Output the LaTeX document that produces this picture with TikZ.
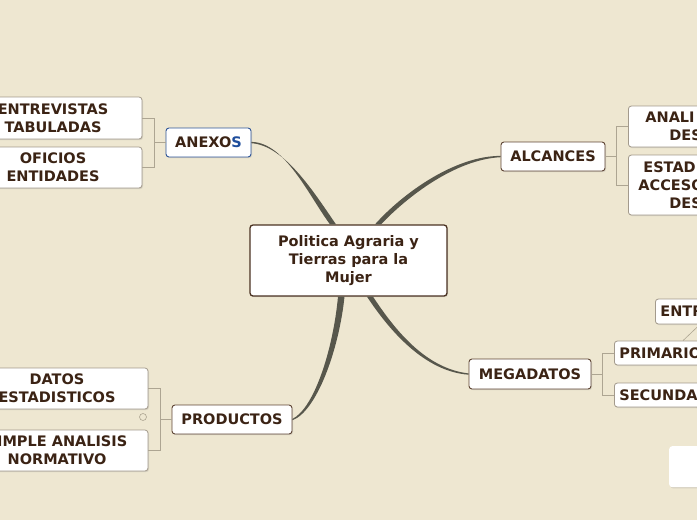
\documentclass[tikz,border=0pt]{standalone}
\usepackage{fontspec}
\setmainfont{DejaVu Sans}
\usetikzlibrary{calc,shadows}
\definecolor{bgc}{HTML}{EEE7D1}
\definecolor{txtc}{HTML}{3B2314}
\definecolor{ctrb}{HTML}{4A3222}
\definecolor{lonec}{HTML}{5E4535}
\definecolor{ltwoc}{HTML}{A39A8C}
\definecolor{bluec}{HTML}{2F5597}
\definecolor{bluet}{HTML}{1F4E9C}
\definecolor{brc}{HTML}{ADA592}
\definecolor{branchc}{HTML}{57574C}
\begin{document}
\begin{tikzpicture}[x=1pt,y=-1pt,
  basebox/.style={fill=white, rounded corners=3pt, inner sep=0pt, align=center, text=txtc,
    font=\bfseries\fontsize{14.5}{18}\selectfont,
    drop shadow={shadow xshift=1pt, shadow yshift=-1.2pt, opacity=0.22}},
  ctrbox/.style={basebox, draw=ctrb, line width=1.3pt},
  onebox/.style={basebox, draw=lonec, line width=0.9pt},
  twobox/.style={basebox, draw=ltwoc, line width=0.8pt},
  bracket/.style={draw=brc, line width=0.9pt},
  branch/.style={fill=branchc}]
\useasboundingbox (0,0) rectangle (697,520);
\clip (0,0) rectangle (697,520);
\fill[bgc] (0,0) rectangle (697,520);

% central
\node[ctrbox, minimum width=197, minimum height=71] (ctr) at (348.5,260.5)
  {Politica Agraria y\\Tierras para la\\Mujer};

% level one
\node[basebox, draw=bluec, line width=0.9pt, minimum width=85, minimum height=29] (anexos) at (208.5,142.5)
  {ANEXO\textcolor{bluet}{S}};
\node[onebox, minimum width=104, minimum height=29] (alcances) at (553,156.5) {ALCANCES};
\node[onebox, minimum width=122, minimum height=30] (megadatos) at (530,374) {MEGADATOS};
\node[onebox, minimum width=120, minimum height=29] (productos) at (232,419.5) {PRODUCTOS};

% level two, left
\node[twobox, minimum width=178, minimum height=42] (entrev) at (53,118) {ENTREVISTAS\\TABULADAS};
\node[twobox, minimum width=178, minimum height=41] (oficios) at (53,167.5) {OFICIOS\\ENTIDADES};
\node[twobox, minimum width=182, minimum height=41] (datos) at (57,388.5) {DATOS\\ESTADISTICOS};
\node[twobox, minimum width=182, minimum height=41] (simple) at (57,450.5) {SIMPLE ANALISIS\\NORMATIVO};
\node[circle, draw=brc, line width=0.6pt, minimum size=7pt, inner sep=0pt] (fold) at (143,417) {};

% level two, right (cut by the frame)
\node[twobox, anchor=west, minimum height=41, text width=110pt, inner xsep=17pt, align=left] (anali) at (628,126.5)
  {ANALI\\\hspace*{24pt}DES};
\node[twobox, anchor=west, minimum height=60, text width=110pt, inner xsep=10pt, align=left] (estad) at (628,185)
  {\hspace*{5pt}ESTAD\\ACCESO\\\hspace*{31pt}DES};
\node[twobox, anchor=west, minimum height=25, text width=70pt, inner xsep=5pt, align=left] (entr) at (655,311.5) {ENTR};
\node[twobox, anchor=west, minimum height=24, text width=100pt, inner xsep=5pt, align=left] (prim) at (614,353) {PRIMARIO};
\node[twobox, anchor=west, minimum height=24, text width=100pt, inner xsep=5pt, align=left] (secun) at (614,395) {SECUNDA};
\node[basebox, anchor=north west, minimum width=60, minimum height=41] (blank) at (669,446) {};

% brackets
\draw[bracket] (entrev.east) -| ($(anexos.west)+(-11,0)$) |- (oficios.east);
\draw[bracket] ($(anexos.west)+(-11,0)$) -- (anexos.west);
\draw[bracket] (anali.west) -| ($(alcances.east)+(11,0)$) |- (estad.west);
\draw[bracket] ($(alcances.east)+(11,0)$) -- (alcances.east);
\draw[bracket] (prim.west) -| ($(megadatos.east)+(11,0)$) |- (secun.west);
\draw[bracket] ($(megadatos.east)+(11,0)$) -- (megadatos.east);
\draw[bracket] (datos.east) -| ($(productos.west)+(-11,0)$) |- (simple.east);
\draw[bracket] ($(productos.west)+(-11,0)$) -- (productos.west);
\draw[bracket, line width=0.6pt] ($(prim.north west)+(69,0)$) -- ($(entr.south west)+(45,0)$);
\coordinate (secout) at (700,418);
\draw[bracket, line width=0.6pt] ($(secun.south west)+(83,0)$) -- (secout);

% tapered main branches
\fill[branch] ($(ctr.north)+(-18.5,0)$) .. controls (309,196) and (285,142.3) .. ($(anexos.east)+(0,-0.6)$)
  -- ($(anexos.east)+(0,0.7)$) .. controls (285,145.5) and (315,194) .. ($(ctr.north)+(-12.5,0)$) -- cycle;
\fill[branch] ($(ctr.north)+(26.5,0)$) .. controls (403,193) and (455,155.8) .. ($(alcances.west)+(0,-0.6)$)
  -- ($(alcances.west)+(0,0.7)$) .. controls (455,159.5) and (407,197) .. ($(ctr.north)+(32.5,0)$) -- cycle;
\fill[branch] ($(ctr.south)+(18.5,0)$) .. controls (390,331.5) and (425,371.5) .. ($(megadatos.west)+(0,0.7)$)
  -- ($(megadatos.west)+(0,-0.6)$) .. controls (425,368.5) and (394,328.5) .. ($(ctr.south)+(24.5,0)$) -- cycle;
\fill[branch] ($(ctr.south)+(-10.5,0)$) .. controls (333,350) and (314,408.5) .. ($(productos.east)+(0,-0.6)$)
  -- ($(productos.east)+(0,0.7)$) .. controls (316.5,411.5) and (339,350) .. ($(ctr.south)+(-4,0)$) -- cycle;
\end{tikzpicture}
\end{document}
